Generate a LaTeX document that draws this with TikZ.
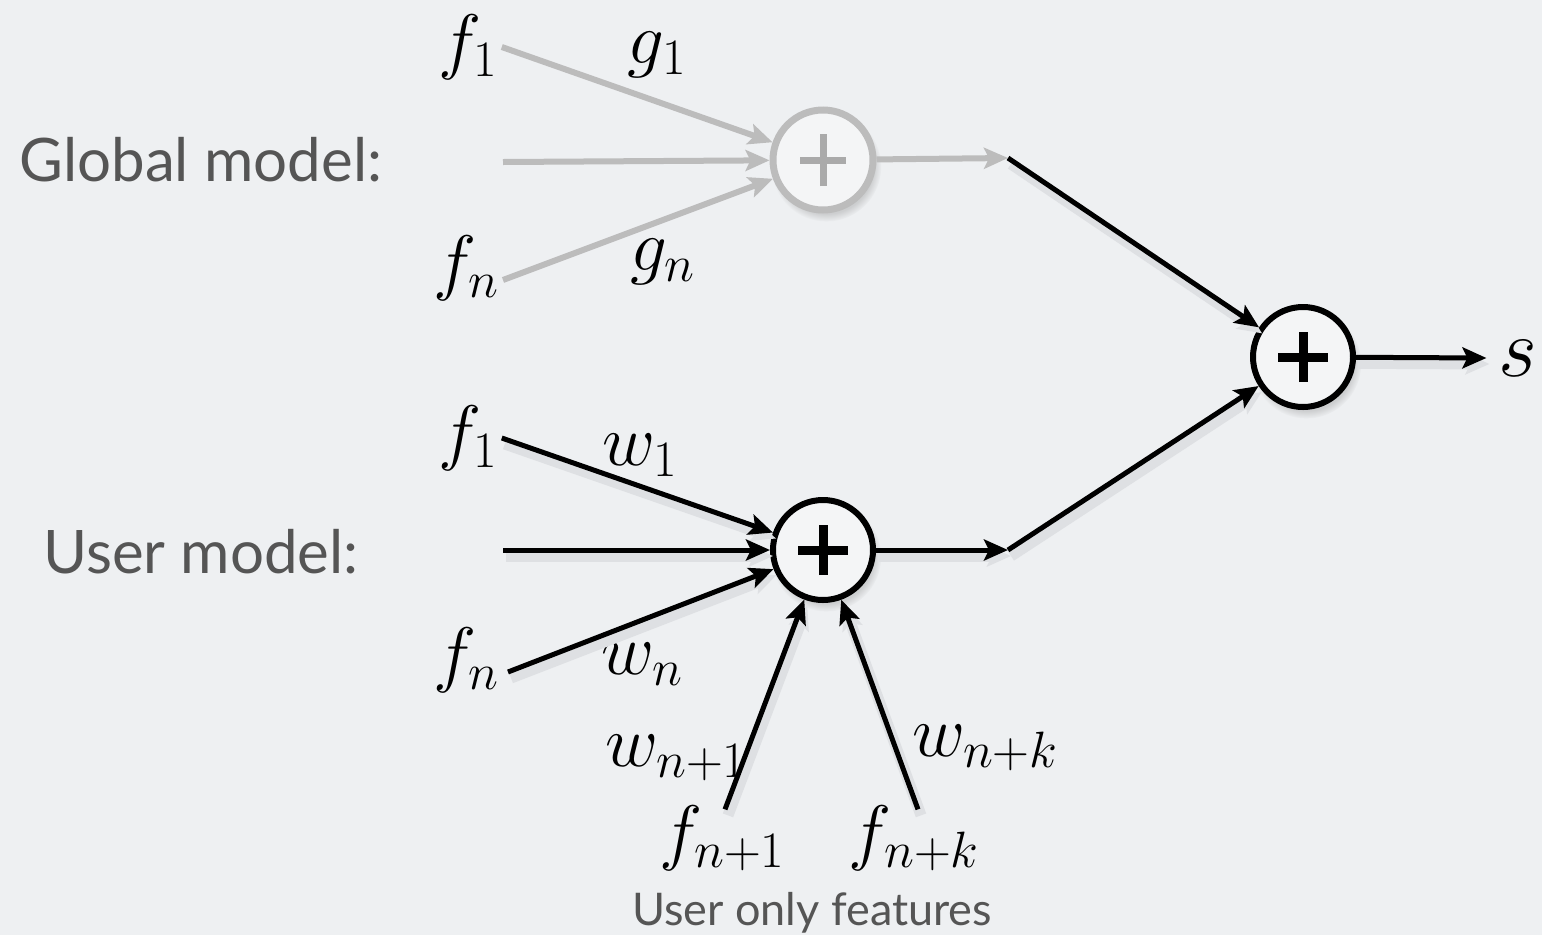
\RequirePackage{fix-cm}
\documentclass[tikz,border=0pt]{standalone}
\usepackage{fontspec}
\newfontfamily\lblfont{Lato}
\usetikzlibrary{arrows.meta,shadows}
\definecolor{bg}{RGB}{238,240,242}
\definecolor{txt}{RGB}{85,85,85}
\definecolor{faded}{RGB}{188,188,188}
\definecolor{fadedplus}{RGB}{170,170,170}
\definecolor{shade}{RGB}{222,224,227}
\definecolor{sumfill}{RGB}{244,245,246}
\begin{document}
\begin{tikzpicture}[x=1pt,y=-1pt,
  mlbl/.style={inner sep=0pt, font=\fontsize{73}{80}\selectfont},
  slbl/.style={inner sep=0pt, font=\fontsize{84}{90}\selectfont},
  txtlbl/.style={inner sep=0pt, text=txt, font=\lblfont\fontsize{60}{68}\selectfont},
  smalltxt/.style={inner sep=0pt, text=txt, font=\lblfont\fontsize{45}{52}\selectfont},
  shd/.style={preaction={draw=shade, line width=11pt, transform canvas={shift={(3pt,-6pt)}}}},
  barr/.style={shd, draw=black, line width=5pt, -{Stealth[length=24pt,width=21pt,inset=5pt]}},
  garr/.style={draw=faded, line width=6pt, -{Stealth[length=24pt,width=21pt,inset=5pt]}},
  sumbase/.style={circle, minimum size=100pt, inner sep=0pt, fill=sumfill,
    circular drop shadow={shadow xshift=3pt, shadow yshift=-6pt, opacity=0.3}},
  bsum/.style={sumbase, draw=black, line width=6pt,
    path picture={
      \draw[black, line width=9pt] ([xshift=-25pt]path picture bounding box.center) -- ([xshift=25pt]path picture bounding box.center);
      \draw[black, line width=9pt] ([yshift=-25pt]path picture bounding box.center) -- ([yshift=25pt]path picture bounding box.center);}},
  gsum/.style={sumbase, draw=faded, line width=7pt,
    path picture={
      \draw[fadedplus, line width=7pt] ([xshift=-23pt]path picture bounding box.center) -- ([xshift=23pt]path picture bounding box.center);
      \draw[fadedplus, line width=7pt] ([yshift=-26pt]path picture bounding box.center) -- ([yshift=26pt]path picture bounding box.center);}}
]
\fill[bg] (0,0) rectangle (1542,935);
\useasboundingbox (0,0) rectangle (1542,935);

% labels
\node[txtlbl] (glbl) at (201,160) {Global model:};
\node[txtlbl] (ulbl) at (201,552) {User model:};

% global model
\node[mlbl] (gf1) at (468,47) {$f_1$};
\node[mlbl] (gfn) at (466,268) {$f_n$};
\node[mlbl] (gg1) at (657,55) {$g_1$};
\node[mlbl] (ggn) at (663,262) {$g_n$};
\node[gsum] (gs) at (823,160) {};
\coordinate (gm) at (503,162);
\coordinate (ge) at (1008,158);

% final sum
\node[bsum] (fs) at (1303,357) {};
\node[slbl] (s) at (1518,358) {$s$};

% user model
\node[mlbl] (uf1) at (468,438) {$f_1$};
\node[mlbl] (ufn) at (466,660) {$f_n$};
\node[mlbl] (uw1) at (640,455) {$w_1$};
\node[mlbl] (uwn) at (642,664) {$w_n$};
\node[bsum] (us) at (823,550) {};
\coordinate (um) at (503,550);
\coordinate (ue) at (1008,550);
\node[mlbl] (ufa) at (722,838) {$f_{n+1}$};
\node[mlbl] (ufb) at (914,838) {$f_{n+k}$};
\node[mlbl] (uwa) at (676,758) {$w_{n+1}$};
\node[mlbl] (uwb) at (985,748) {$w_{n+k}$};
\node[smalltxt] (uof) at (812,913) {User only features};

% global connectors
\draw[garr] ([xshift=4pt]gf1.east) -- (gs);
\draw[garr] (gm) -- (gs);
\draw[garr] ([xshift=4pt,yshift=-12pt]gfn.east) -- (gs);
\draw[garr] (gs) -- (ge);
\draw[barr] (ge) -- (fs);

% user connectors
\draw[barr] ([xshift=4pt]uf1.east) -- (us);
\draw[barr] (um) -- (us);
\draw[barr] ([xshift=9pt,yshift=-12pt]ufn.east) -- (us);
\draw[barr] (us) -- (ue);
\draw[barr] (ue) -- (fs);
\draw[barr] ([xshift=3pt,yshift=-4pt]ufa.north) -- (us);
\draw[barr] ([xshift=4pt,yshift=-4pt]ufb.north) -- (us);

% output
\draw[barr] (fs) -- ([xshift=-12pt]s.west);
\end{tikzpicture}
\end{document}
